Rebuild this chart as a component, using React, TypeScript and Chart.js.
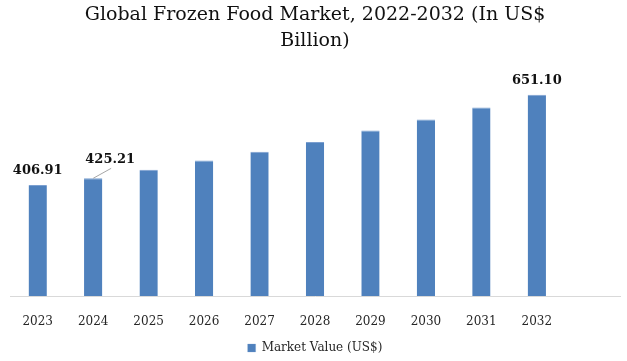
import React, { useEffect, useRef } from "react";
import { Chart, registerables } from "chart.js";

Chart.register(...registerables);

const titleLines = ["Global Frozen Food Market, 2022-2032 (In US$", "Billion)"];
const seriesName = "Market Value (US$)";
const categories = ["2023", "2024", "2025", "2026", "2027", "2028", "2029", "2030", "2031", "2032", ""];
const marketValues = [406.91, 425.21, 448.2, 473.7, 496.9, 523.1, 554.8, 584.5, 617.0, 651.1, null];
const labelledIndices = [0, 1, 9];
const labelTexts = ["406.91", "425.21", "651.10"];

const FONT = "'DejaVu Serif', Georgia, serif";
const BAR_COLOR = "#4f81bd";

const valueLabelPlugin = {
  id: "valueLabels",
  afterDatasetsDraw(chart: any) {
    const ctx = chart.ctx;
    const meta = chart.getDatasetMeta(0);
    ctx.save();
    ctx.font = `bold 13px ${FONT}`;
    ctx.fillStyle = "#111";
    ctx.textAlign = "center";
    ctx.textBaseline = "middle";
    labelledIndices.forEach((idx, k) => {
      const el = meta.data[idx];
      if (!el) return;
      if (idx === 1) {
        ctx.strokeStyle = "#a6a6a6";
        ctx.lineWidth = 1;
        ctx.beginPath();
        ctx.moveTo(el.x, el.y);
        ctx.lineTo(el.x + 18, el.y - 10);
        ctx.stroke();
        ctx.fillText(labelTexts[k], el.x + 17, el.y - 19);
      } else {
        ctx.fillText(labelTexts[k], el.x, el.y - 14);
      }
    });
    ctx.restore();
  },
};

export default function App() {
  const ref = useRef<HTMLCanvasElement | null>(null);
  useEffect(() => {
    if (!ref.current) return;
    const chart = new Chart(ref.current, {
      type: "bar",
      data: {
        labels: categories,
        datasets: [
          {
            label: seriesName,
            data: marketValues as any,
            backgroundColor: BAR_COLOR,
            borderColor: "#7b9fd0",
            borderWidth: { top: 1, left: 0, right: 0, bottom: 0 } as any,
            categoryPercentage: 1,
            barPercentage: 0.33,
          },
        ],
      },
      options: {
        responsive: false,
        animation: false,
        layout: { padding: { left: 10, right: 7, top: 0, bottom: -3 } },
        scales: {
          x: {
            grid: { display: false, drawTicks: false },
            border: { display: true, color: "#d9d9d9", width: 1 },
            ticks: { color: "#262626", font: { family: FONT, size: 12 }, padding: 19, maxRotation: 0, autoSkip: false },
            afterFit: (scale: any) => {
              scale.height = 42;
            },
          },
          y: {
            display: false,
            min: 107,
            max: 745,
          },
        },
        plugins: {
          title: {
            display: true,
            text: titleLines,
            color: "#111",
            font: { family: FONT, size: 19, weight: "normal", lineHeight: 1.37 },
            padding: { top: 2, bottom: 6 },
          },
          legend: {
            position: "bottom",
            labels: {
              color: "#262626",
              font: { family: FONT, size: 12 },
              boxWidth: 8,
              boxHeight: 8,
              padding: 4,
            },
          },
          tooltip: { enabled: false },
        },
      },
      plugins: [valueLabelPlugin],
    });
    return () => chart.destroy();
  }, []);
  return (
    <div style={{ position: "fixed", left: 0, top: 0, width: 627, height: 361, background: "#fff" }}>
      <canvas ref={ref} width={627} height={361} />
    </div>
  );
}
